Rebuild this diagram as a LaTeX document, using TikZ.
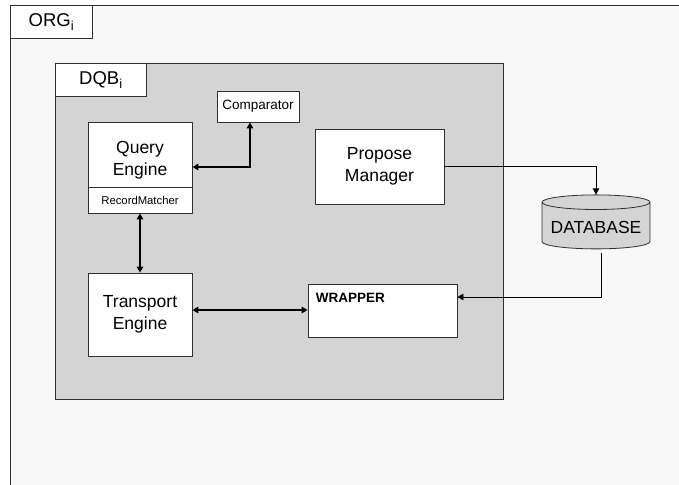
\documentclass[tikz,border=0pt]{standalone}
\usepackage{fontspec}
\setmainfont{Liberation Sans}
\usetikzlibrary{arrows.meta,shapes.geometric}
\definecolor{orgfill}{HTML}{F8F8F8}
\definecolor{dqbfill}{HTML}{D4D4D4}
\definecolor{edgegray}{HTML}{303030}

\begin{document}
\begin{tikzpicture}[x=1pt, y=-1pt,
    box/.style={draw=edgegray, fill=white, line width=0.8pt, inner sep=0pt},
    frame/.style={draw=edgegray, line width=0.8pt, anchor=north west, inner sep=0pt},
    bigtxt/.style={font=\fontsize{17.5}{21.5}\selectfont, align=center},
    headtxt/.style={font=\fontsize{18.5}{22}\selectfont},
    link/.style={line width=1.7pt, {Triangle[length=6pt,width=6.5pt]}-{Triangle[length=6pt,width=6.5pt]}},
    feed/.style={line width=0.8pt, -{Triangle[length=6pt,width=6.5pt]}}
  ]
  \useasboundingbox (0,0) rectangle (679,484);
  \fill[white] (0,0) rectangle (679,484);

  % containers
  \node[frame, fill=orgfill, minimum width=690, minimum height=500] (org) at (10,5) {};
  \node[frame, fill=white, headtxt, minimum width=82, minimum height=33] (orglbl) at (10,5) {ORG\textsubscript{i}};
  \node[frame, fill=dqbfill, minimum width=448, minimum height=336] (dqb) at (55,63) {};
  \node[frame, fill=white, headtxt, minimum width=91, minimum height=33] (dqblbl) at (55,63) {DQB\textsubscript{i}};

  % components
  \node[box, font=\fontsize{13.5}{16}\selectfont, minimum width=82, minimum height=31] (comp) at (258,106.5) {Comparator};
  \node[box, minimum width=104, minimum height=65] (qe) at (140,154.5) {};
  \node[bigtxt] (qelbl) at (140,160) {Query\\Engine};
  \node[box, font=\fontsize{11.3}{13}\selectfont, minimum width=104, minimum height=26] (rm) at (140,200) {RecordMatcher};
  \node[box, bigtxt, minimum width=104, minimum height=83] (te) at (140,314.5) {Transport\\Engine};
  \node[box, bigtxt, minimum width=129, minimum height=75] (pm) at (379.5,166.5) {Propose\\Manager};
  \node[box, minimum width=149, minimum height=53] (wrap) at (382.5,310.5) {};
  \node[anchor=north west, inner sep=0pt, font=\bfseries\fontsize{13.5}{16}\selectfont] (wraplbl)
    at ([xshift=8,yshift=-9]wrap.north west) {WRAPPER};
  \node[cylinder, shape border rotate=90, aspect=0.15, draw=edgegray, fill=dqbfill, line width=0.8pt,
    minimum width=108, minimum height=54, font=\fontsize{17.5}{21}\selectfont] (db) at (596,227) {DATABASE};

  % connectors
  \draw[link] ([yshift=-12.5]qe.east) -| ([xshift=-8]comp.south);
  \draw[link] (rm) -- (te);
  \draw[link] ([yshift=0.5]te.east |- wrap.west) -- ([yshift=0.5]wrap.west);
  \draw[feed] (pm.east) -| (db.north);
  \draw[feed] ([xshift=5,yshift=-4]db.south) |- ([yshift=13.5]wrap.east);
\end{tikzpicture}
\end{document}
